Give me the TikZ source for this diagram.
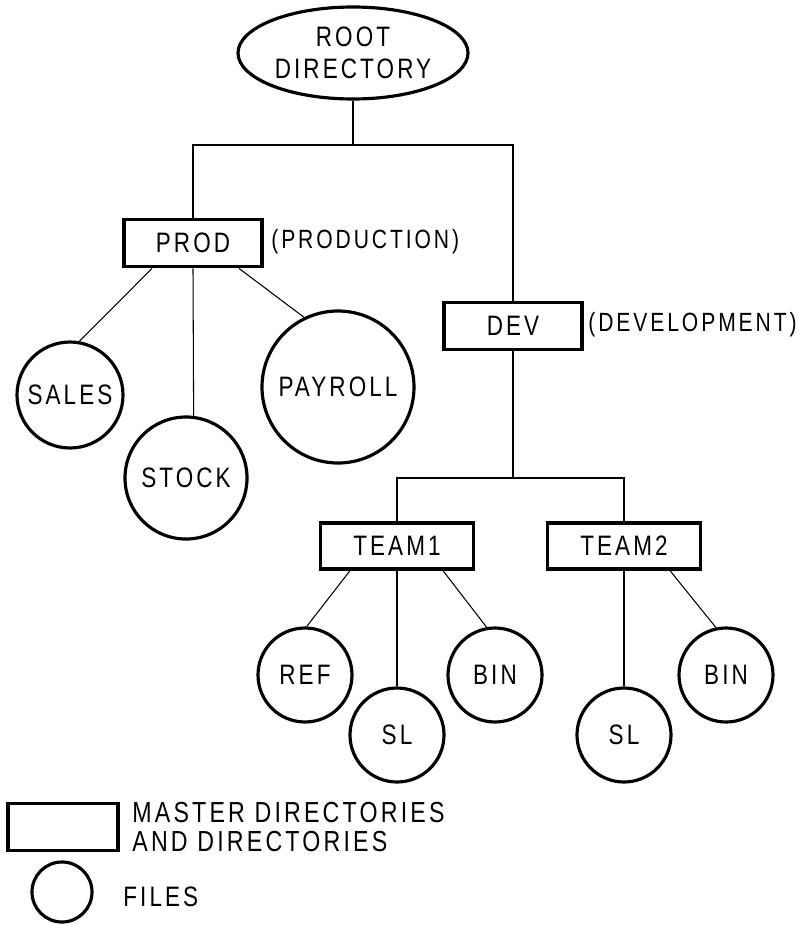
\documentclass[tikz,border=0pt]{standalone}
\usepackage{fontspec}
\setmainfont{Liberation Sans}[FakeStretch=0.8,LetterSpace=11]
\usetikzlibrary{shapes.geometric}

\begin{document}
\begin{tikzpicture}[
        dirbox/.style = {draw, line width=1.9pt, minimum width=2.76cm, minimum height=0.95cm, inner sep=0pt},
        filecirc/.style = {draw, circle, line width=1.8pt, inner sep=0pt},
        note/.style = {inner sep=0pt, font=\fontsize{15}{18}\selectfont},
        link/.style = {line width=0.6pt},
        every node/.style = {font=\fontsize{16}{18}\selectfont}
    ]
                \useasboundingbox (0,0) rectangle (15.96,-18.5);
                \node[draw, ellipse, line width=1.8pt, minimum width=4.6cm, minimum height=1.84cm, inner sep=0pt, align=center] (root) at (7.06,-1.06) {ROOT\\DIRECTORY};
                \node[dirbox] (prod) at (3.86,-4.86) {PROD};
                \node[note, anchor=west] (prodnote) at (5.42,-4.84) {(PRODUCTION)};
                \node[dirbox] (dev) at (10.26,-6.52) {DEV};
                \node[note, anchor=east] (devnote) at (15.94,-6.5) {(DEVELOPMENT)};
                \node[filecirc, minimum size=2.12cm] (sales) at (1.4,-7.9) {SALES};
                \node[filecirc, minimum size=2.44cm] (stock) at (3.72,-9.56) {STOCK};
                \node[filecirc, minimum size=3.04cm] (payroll) at (6.76,-7.74) {PAYROLL};
                \node[dirbox, minimum width=3.06cm, minimum height=0.92cm] (team1) at (7.94,-10.92) {TEAM1};
                \node[dirbox, minimum width=3.06cm, minimum height=0.92cm] (team2) at (12.48,-10.92) {TEAM2};
                \node[filecirc, minimum size=1.88cm] (ref) at (6.1,-13.5) {REF};
                \node[filecirc, minimum size=1.88cm] (sl1) at (7.94,-14.7) {SL};
                \node[filecirc, minimum size=1.88cm] (bin1) at (9.9,-13.5) {BIN};
                \node[filecirc, minimum size=1.88cm] (sl2) at (12.48,-14.7) {SL};
                \node[filecirc, minimum size=1.88cm] (bin2) at (14.52,-13.5) {BIN};
                \coordinate (jr) at (10.26,-2.9);
                \coordinate (kr) at (12.48,-9.56);
                \draw[link] (root.south) -- (root.south |- jr);
                \draw[link] (prod.north) |- (jr) -- (dev.north);
                \draw[link] ([xshift=-0.82cm]prod.south) -- (sales.80);
                \draw[link] (prod.south) -- (stock.83);
                \draw[link] ([xshift=0.92cm]prod.south) -- (payroll.116);
                \draw[link] (dev.south) -- (dev.south |- kr);
                \draw[link] (team1.north) |- (kr) -- (team2.north);
                \draw[link] ([xshift=-0.94cm]team1.south) -- (ref.88);
                \draw[link] (team1.south) -- (sl1.north);
                \draw[link] ([xshift=0.92cm]team1.south) -- (bin1.100);
                \draw[link] (team2.south) -- (sl2.north);
                \draw[link] ([xshift=0.92cm]team2.south) -- (bin2.102);
                \node[dirbox, minimum width=2.2cm] (keybox) at (1.26,-16.54) {};
                \node[anchor=west, align=left, inner sep=0pt, font=\fontsize{16.5}{17}\selectfont] (keydir) at (2.64,-16.54) {MASTER DIRECTORIES\\AND DIRECTORIES};
                \node[filecirc, minimum size=1.2cm] (keycirc) at (1.24,-17.84) {};
                \node[anchor=west, inner sep=0pt] (keyfile) at (2.46,-17.94) {FILES};
            \end{tikzpicture}
\end{document}
